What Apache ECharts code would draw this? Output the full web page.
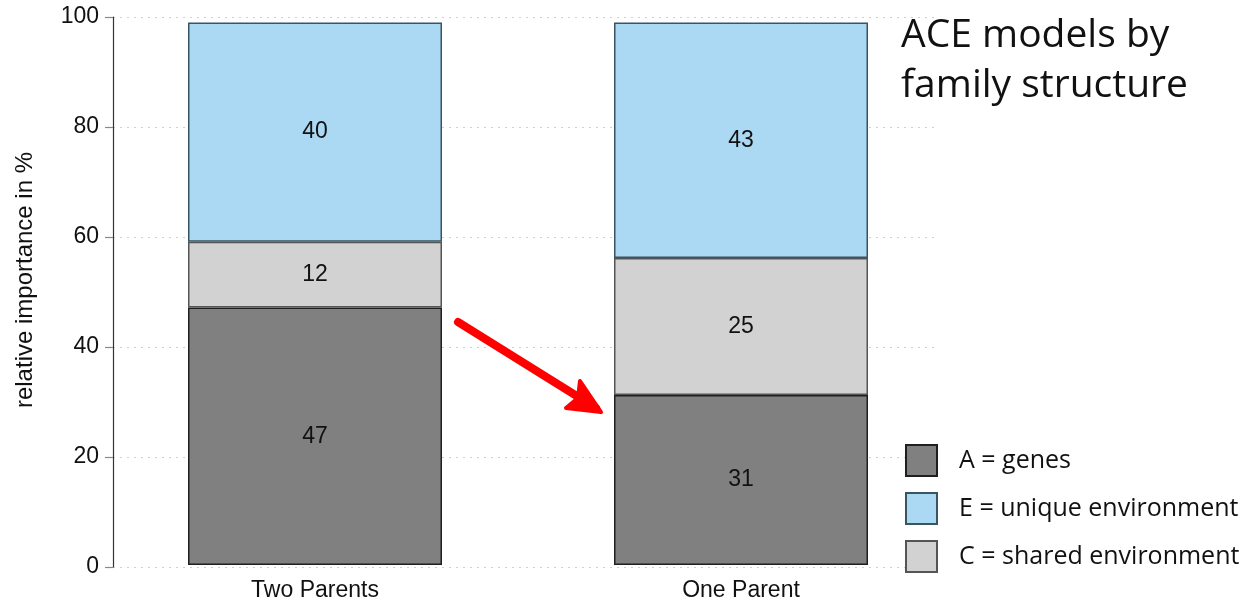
<!DOCTYPE html>
<html>
<head>
<meta charset="utf-8">
<script src="https://cdn.jsdelivr.net/npm/echarts@6/dist/echarts.min.js"></script>
<style>
  html, body { margin: 0; padding: 0; background: #ffffff; }
  #chart { width: 1260px; height: 602px; }
</style>
</head>
<body>
<div id="chart"></div>
<script>
// Family structures shown on the horizontal axis
const categories = ['Two Parents', 'One Parent'];
// Variance components (relative importance in %), bottom to top of each stack
const genes = [47, 31];          // A
const sharedEnv = [12, 25];      // C
const uniqueEnv = [40, 43];      // E
// Tick values on the y axis
const yTicks = [0, 20, 40, 60, 80, 100];

const seriesNames = {
  A: 'A = genes',
  E: 'E = unique environment',
  C: 'C = shared environment'
};

const sansArial = 'Liberation Sans, Arial, sans-serif';
const sansUI = 'Open Sans, Noto Sans, sans-serif';

const labelStyle = {
  show: true,
  position: 'inside',
  fontFamily: sansArial,
  fontSize: 23,
  color: '#111111'
};

function barSeries(name, vals, fill, border) {
  return {
    name: name,
    type: 'bar',
    stack: 'ace',
    xAxisIndex: 1,
    yAxisIndex: 1,
    barWidth: 254,
    data: vals,
    itemStyle: { color: fill, borderColor: border, borderWidth: 1.5 },
    label: labelStyle,
    emphasis: { disabled: true }
  };
}

const plotTop = 17;
const plotBottom = 35;

const chart = echarts.init(document.getElementById('chart'), null, { renderer: 'canvas' });

chart.setOption({
  animation: false,
  backgroundColor: '#ffffff',
  title: {
    text: 'ACE models by\nfamily structure',
    left: 896,
    top: 6,
    textStyle: {
      fontFamily: sansUI,
      fontWeight: 'normal',
      fontSize: 39,
      lineHeight: 50,
      color: '#111111'
    }
  },
  legend: {
    orient: 'vertical',
    left: 905,
    top: 444,
    padding: 0,
    itemWidth: 31,
    itemHeight: 31,
    itemGap: 15,
    icon: 'rect',
    selectedMode: false,
    data: [seriesNames.A, seriesNames.E, seriesNames.C],
    textStyle: {
      fontFamily: sansUI,
      fontSize: 25,
      color: '#111111',
      padding: [0, 0, 0, 17]
    }
  },
  grid: [
    // axis frame with the y scale and dotted guide lines
    { left: 113, top: plotTop, right: 325, bottom: plotBottom },
    // bars, laid out over a slightly wider band so the two stacks sit where they should
    { left: 102, top: plotTop, right: 306, bottom: plotBottom }
  ],
  xAxis: [
    {
      gridIndex: 0,
      type: 'value',
      min: 0,
      max: 1,
      show: false
    },
    {
      gridIndex: 1,
      type: 'category',
      data: categories,
      axisLine: { show: false },
      axisTick: { show: false },
      splitLine: { show: false },
      axisLabel: {
        margin: 14,
        fontFamily: sansArial,
        fontSize: 23,
        color: '#111111'
      }
    }
  ],
  yAxis: [
    {
      gridIndex: 0,
      type: 'value',
      min: 0,
      max: 100,
      interval: 20,
      name: 'relative importance in %',
      nameLocation: 'middle',
      nameGap: 76,
      nameTextStyle: {
        fontFamily: sansArial,
        fontSize: 24,
        color: '#111111',
        padding: [0, 0, 0, 24]
      },
      axisLine: { show: true, lineStyle: { color: '#333333', width: 1.2 } },
      axisTick: { show: true, length: 8, lineStyle: { color: '#888888', width: 1.2 } },
      axisLabel: {
        margin: 14,
        fontFamily: sansArial,
        fontSize: 23,
        color: '#111111',
        formatter: (v) => (yTicks.indexOf(v) >= 0 ? String(v) : '')
      },
      splitLine: {
        show: true,
        lineStyle: { color: '#cfcfcf', width: 1, type: [2, 5] }
      }
    },
    {
      gridIndex: 1,
      type: 'value',
      min: 0,
      max: 100,
      show: false,
      splitLine: { show: false }
    }
  ],
  series: [
    barSeries(seriesNames.A, genes, '#808080', '#1f1f1f'),
    barSeries(seriesNames.C, sharedEnv, '#d2d2d2', '#555555'),
    barSeries(seriesNames.E, uniqueEnv, '#abd9f3', '#3a5560')
  ],
  graphic: [
    {
      type: 'line',
      shape: { x1: 458, y1: 322, x2: 596, y2: 408 },
      style: { stroke: '#ff0000', lineWidth: 8, lineCap: 'round' },
      z: 100
    },
    {
      type: 'polygon',
      shape: { points: [[580, 381], [601, 412], [566, 408], [578, 398]] },
      style: { fill: '#ff0000', stroke: '#ff0000', lineWidth: 4, lineJoin: 'round' },
      z: 100
    }
  ]
});
</script>
</body>
</html>
